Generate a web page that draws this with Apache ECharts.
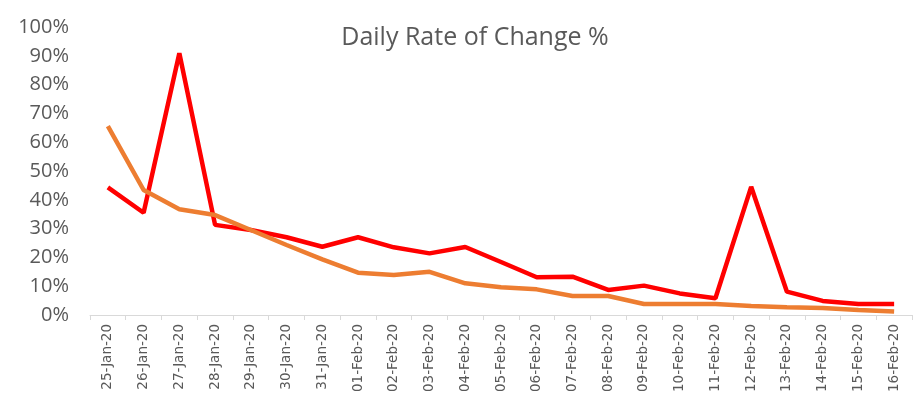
<!DOCTYPE html>
<html><head><meta charset="utf-8">
<script src="https://cdn.jsdelivr.net/npm/echarts@6/dist/echarts.min.js"></script>
<style>html,body{margin:0;padding:0;background:#fff}#c{width:916px;height:403px}</style>
</head><body><div id="c"></div>
<script>
const categories = ['25-Jan-20','26-Jan-20','27-Jan-20','28-Jan-20','29-Jan-20','30-Jan-20','31-Jan-20','01-Feb-20','02-Feb-20','03-Feb-20','04-Feb-20','05-Feb-20','06-Feb-20','07-Feb-20','08-Feb-20','09-Feb-20','10-Feb-20','11-Feb-20','12-Feb-20','13-Feb-20','14-Feb-20','15-Feb-20','16-Feb-20'];
const redSeries = [44.3,35.5,90.9,31.3,29.5,27.0,23.7,27.0,23.5,21.4,23.6,18.4,13.1,13.3,8.7,10.2,7.5,5.8,44.5,8.1,4.9,3.8,3.8];
const orangeSeries = [65.6,43.4,36.7,34.7,29.5,24.3,19.3,14.7,13.9,15.0,11.0,9.6,8.9,6.6,6.6,3.8,3.8,3.8,3.1,2.7,2.4,1.7,1.2];
const yTicks = [0,10,20,30,40,50,60,70,80,90,100];
const chart = echarts.init(document.getElementById('c'));
chart.setOption({
  animation:false,
  title:{text:'Daily Rate of Change %',left:470,textAlign:'center',top:20,
    textStyle:{fontFamily:'Open Sans',fontSize:25,fontWeight:'normal',color:'#595959'}},
  grid:{left:90,right:4,top:27,bottom:88,containLabel:false},
  xAxis:{type:'category',data:categories,boundaryGap:true,
    axisLine:{lineStyle:{color:'#d9d9d9',width:1}},
    axisTick:{show:true,length:5,lineStyle:{color:'#d9d9d9'}},
    axisLabel:{rotate:90,interval:0,margin:9,fontFamily:'DejaVu Sans',fontSize:13.5,color:'#595959'}},
  yAxis:{type:'value',min:yTicks[0],max:yTicks[yTicks.length-1],interval:10,
    splitLine:{show:false},axisLine:{show:false},axisTick:{show:false},
    axisLabel:{formatter:'{value}%',margin:21,fontFamily:'Open Sans',fontSize:20,color:'#595959'}},
  series:[
    {type:'line',data:redSeries,symbol:'none',lineStyle:{color:'#ff0000',width:4.5},itemStyle:{color:'#ff0000'}},
    {type:'line',data:orangeSeries,symbol:'none',lineStyle:{color:'#ed7d31',width:4.5},itemStyle:{color:'#ed7d31'}}
  ]
});
</script></body></html>
